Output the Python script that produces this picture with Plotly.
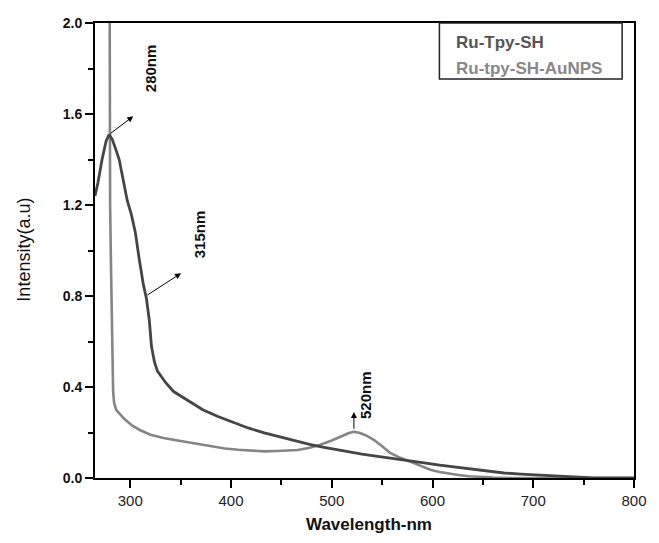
import plotly.graph_objects as go

# Ru-Tpy-SH (dark curve)
wl_dark = [265, 268, 272, 276, 279, 282, 286, 289, 293, 297, 301, 305, 309, 313, 316, 319,
           321, 324, 327, 335, 343, 358, 372, 387, 401, 417, 433, 450, 466, 478, 491, 504,
           517, 530, 542, 558, 574, 590, 607, 623, 639, 655, 671, 688, 704, 720, 736, 750,
           760, 800]
int_dark = [1.24, 1.30, 1.40, 1.48, 1.51, 1.49, 1.44, 1.40, 1.31, 1.22, 1.16, 1.08, 0.96, 0.85,
            0.79, 0.69, 0.58, 0.51, 0.47, 0.42, 0.38, 0.34, 0.30, 0.27, 0.246, 0.22, 0.198,
            0.178, 0.16, 0.148, 0.136, 0.125, 0.114, 0.105, 0.097, 0.088, 0.079, 0.068, 0.057,
            0.048, 0.040, 0.031, 0.022, 0.017, 0.013, 0.008, 0.004, 0.001, 0.0, 0.0]

# Ru-tpy-SH-AuNPS (gray curve)
wl_gray = [279.3, 279.5, 280.0, 280.8, 281.5, 282.3, 283.0, 284.0, 286, 290, 294, 302, 310, 320,
           333, 347, 362, 378, 394, 407, 420, 433, 446, 456, 466, 477, 488, 500, 510, 517,
           522, 528, 535, 542, 550, 558, 566, 574, 582, 590, 598, 607, 616, 626, 636, 645,
           660, 680, 800]
int_gray = [2.6, 1.6, 1.2, 0.95, 0.7, 0.5, 0.38, 0.33, 0.30, 0.28, 0.26, 0.23, 0.21, 0.19,
            0.176, 0.165, 0.154, 0.142, 0.13, 0.124, 0.119, 0.117, 0.119, 0.120, 0.123, 0.132,
            0.145, 0.165, 0.185, 0.198, 0.203, 0.198, 0.185, 0.167, 0.14, 0.11, 0.093, 0.079,
            0.062, 0.048, 0.036, 0.026, 0.019, 0.013, 0.008, 0.005, 0.002, 0.0, 0.0]

series_names = ["Ru-Tpy-SH", "Ru-tpy-SH-AuNPS"]
x_ticks = [300, 400, 500, 600, 700, 800]
y_ticks = [0.0, 0.4, 0.8, 1.2, 1.6, 2.0]
peak_labels = ["280nm", "315nm", "520nm"]

DARK = "#454545"
GRAY = "#858585"
FONT = "Arial, Liberation Sans, sans-serif"

fig = go.Figure()
fig.add_trace(go.Scatter(x=wl_gray, y=int_gray, mode="lines", name=series_names[1],
                         line=dict(color=GRAY, width=2.6)))
fig.add_trace(go.Scatter(x=wl_dark, y=int_dark, mode="lines", name=series_names[0],
                         line=dict(color=DARK, width=2.8)))

axis_common = dict(showline=True, linecolor="black", linewidth=2, mirror=True,
                   ticks="outside", tickcolor="black", tickwidth=2, showgrid=False,
                   zeroline=False)

fig.update_xaxes(range=[265, 800], tickvals=x_ticks, ticklen=8,
                 tickfont=dict(family=FONT, size=15, color="#222"),
                 minor=dict(dtick=50, tick0=250, ticks="outside", ticklen=5, tickwidth=2,
                            tickcolor="black", showgrid=False),
                 **axis_common)
fig.update_yaxes(range=[0, 2.0], tickvals=y_ticks, ticktext=[f"{v:.1f}" for v in y_ticks],
                 ticklen=8, tickfont=dict(family=FONT, size=14, color="#111", weight="bold"),
                 minor=dict(dtick=0.2, tick0=0, ticks="outside", ticklen=5, tickwidth=2,
                            tickcolor="black", showgrid=False),
                 **axis_common)

annotations = []
# arrows
arrows = [((279, 1.51), (303, 1.59)), ((315.5, 0.80), (350.4, 0.90)), ((522, 0.21), (522, 0.29))]
for (tx, ty), (hx, hy) in arrows:
    annotations.append(dict(x=hx, y=hy, ax=tx, ay=ty, xref="x", yref="y", axref="x", ayref="y",
                            text="", showarrow=True, arrowhead=2, arrowsize=1.2, arrowwidth=1,
                            arrowcolor="black"))
label_pos = [(320.3, 1.80), (368.9, 1.07), (534, 0.365)]
for txt, (lx, ly) in zip(peak_labels, label_pos):
    annotations.append(dict(x=lx, y=ly, xref="x", yref="y", text=txt, showarrow=False,
                            textangle=-90, font=dict(family=FONT, size=15, color="#111",
                                                     weight="bold")))
# legend texts
annotations.append(dict(x=0.666, y=0.958, xref="paper", yref="paper", text=series_names[0],
                        showarrow=False, xanchor="left", yanchor="middle",
                        font=dict(family=FONT, size=17, color="#555", weight="bold")))
annotations.append(dict(x=0.666, y=0.901, xref="paper", yref="paper", text=series_names[1],
                        showarrow=False, xanchor="left", yanchor="middle",
                        font=dict(family=FONT, size=17, color="#888", weight="bold")))
# axis titles
annotations.append(dict(x=0.508, y=-0.103, xref="paper", yref="paper", text="Wavelength-nm",
                        showarrow=False, xanchor="center", yanchor="middle",
                        font=dict(family=FONT, size=17, color="#111", weight="bold")))
annotations.append(dict(x=-0.1325, y=0.501, xref="paper", yref="paper", text="Intensity(a.u)",
                        showarrow=False, xanchor="center", yanchor="middle", textangle=-90,
                        font=dict(family=FONT, size=18, color="#111")))

fig.update_layout(
    width=659, height=543, autosize=False,
    margin=dict(l=95, r=13, t=23, b=65),
    plot_bgcolor="white", paper_bgcolor="white",
    showlegend=False,
    annotations=annotations,
    shapes=[dict(type="rect", xref="paper", yref="paper", x0=0.639, x1=0.978, y0=0.877, y1=1.0,
                 line=dict(color="#222", width=1.5), fillcolor="rgba(0,0,0,0)")],
)

fig.write_html("out.html")
